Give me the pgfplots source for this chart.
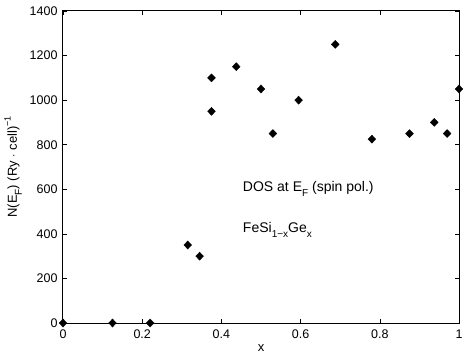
\documentclass[border=0pt]{standalone}
\usepackage{pgfplots}
\pgfplotsset{compat=1.18}
\usepackage{fontspec}
\setmainfont{Liberation Sans}
\newcommand\sub[1]{\raisebox{-5bp}{\fontsize{10bp}{10bp}\selectfont #1}}
\newcommand\super[1]{\raisebox{0.9ex}{\fontsize{9bp}{9bp}\selectfont #1}}
\begin{document}
\fontsize{13bp}{15bp}\selectfont
\begin{tikzpicture}
  \begin{axis}[
    scale only axis,
    width=396bp, height=312bp,
    xmin=0, xmax=1, ymin=0, ymax=1400,
    xtick={0,0.2,...,1}, ytick={0,200,...,1400},
    tick align=inside,
    major tick length=4bp,
    axis line style={line width=1bp},
    tick style={line width=0.6bp, black},
    /pgf/number format/assume math mode=true,
    /pgf/number format/set thousands separator={},
    ticklabel style={font=\fontsize{12.5bp}{15bp}\selectfont},
    xticklabel style={yshift=-2bp},
    yticklabel style={xshift=-1bp},
    xlabel={x},
    ylabel={N(E\sub{F}) (Ry $\cdot$ cell)\super{−1}},
    xlabel style={at={(axis description cs:0.5,-0.08)}, anchor=center},
    ylabel style={at={(axis description cs:-0.126,0.5)}, anchor=center},
    clip=false,
  ]
    \addplot[only marks, mark=diamond*, mark size=4bp, mark options={xscale=1.3}, black] coordinates {
      (0,0) (0.125,0) (0.22,0)
      (0.315,350) (0.345,300)
      (0.375,1100) (0.375,950) (0.4375,1150)
      (0.5,1050) (0.53,850) (0.595,1000)
      (0.6875,1250) (0.78,825) (0.875,850)
      (0.9375,900) (0.97,850) (1,1050)
    };
    \node[anchor=west, inner sep=0pt, font=\fontsize{14bp}{16bp}\selectfont] at (axis cs:0.454,601) {DOS at E\sub{F} (spin pol.)};
    \node[anchor=west, inner sep=0pt, font=\fontsize{14bp}{16bp}\selectfont] at (axis cs:0.454,417) {FeSi\sub{1−x}Ge\sub{x}};
  \end{axis}
  \pgfresetboundingbox
  \path (current axis.south west) ++(-63bp,-35bp) coordinate (bl);
  \path (current axis.north east) ++(10bp,11bp) coordinate (tr);
  \path (bl) rectangle (tr);
\end{tikzpicture}
\end{document}
